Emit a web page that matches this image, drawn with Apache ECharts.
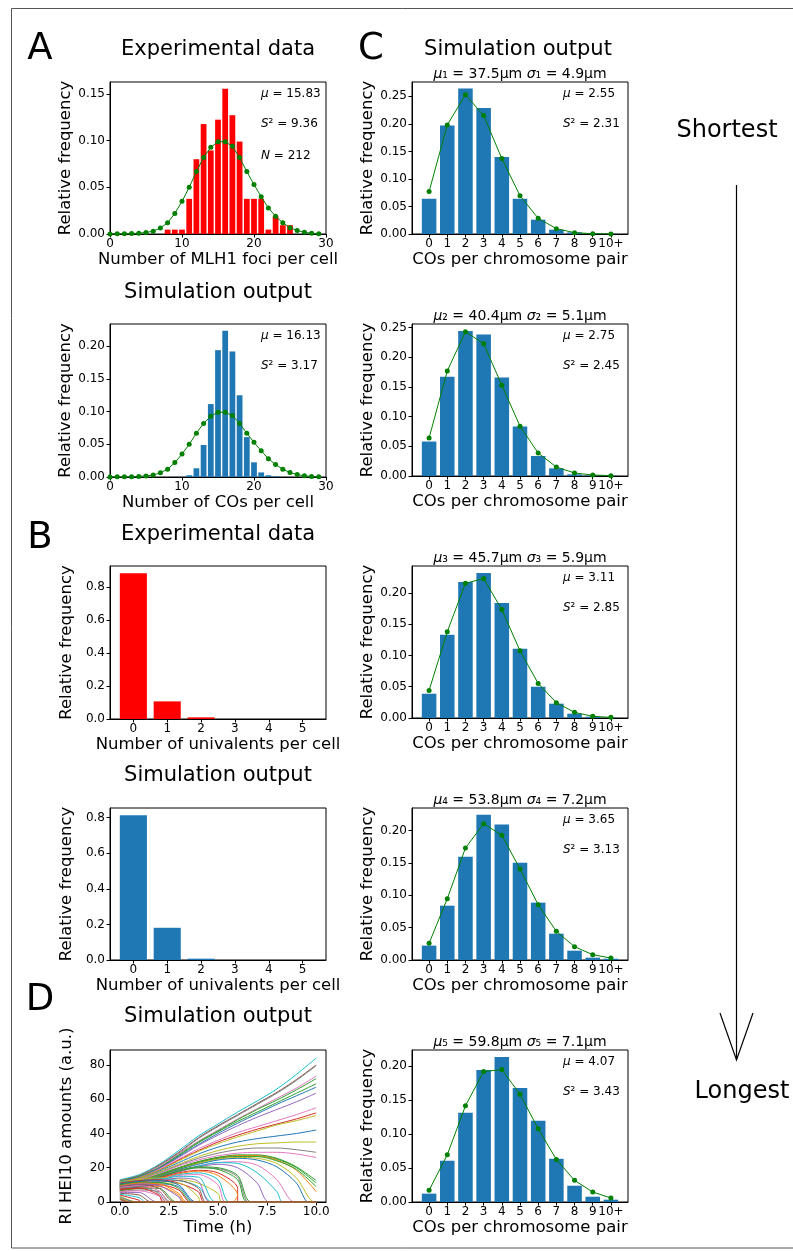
<!DOCTYPE html>
<html><head><meta charset="utf-8">
<script src="https://cdn.jsdelivr.net/npm/echarts@6/dist/echarts.min.js"></script>
<style>html,body{margin:0;padding:0;background:#fff}#c{width:793px;height:1251px}</style>
</head><body><div id="c"></div>
<script>
// ---------------- data ----------------
const fociX = [8,9,10,11,12,13,14,15,16,17,18,19,20,21,22,23,24,25];
const fociFreq = [0.0047,0.0047,0.0047,0.0377,0.0802,0.1179,0.0896,0.1226,0.1557,0.1274,0.0991,0.0377,0.0377,0.0377,0.0047,0.0189,0.0094,0.0094];
const fitX = [0,1,2,3,4,5,6,7,8,9,10,11,12,13,14,15,16,17,18,19,20,21,22,23,24,25,26,27,28,29];
const fitFreq = [0.0001,0.0002,0.0003,0.0005,0.0009,0.0016,0.003,0.0065,0.012,0.022,0.035,0.050,0.067,0.082,0.093,0.099,0.099,0.094,0.082,0.067,0.053,0.040,0.028,0.019,0.012,0.0068,0.0037,0.0018,0.0009,0.0004];
const coCellX = [9,10,11,12,13,14,15,16,17,18,19,20,21,22,23];
const coCellFreq = [0.0003,0.0005,0.0026,0.0133,0.049,0.1115,0.194,0.2235,0.192,0.125,0.061,0.0225,0.007,0.0026,0.001];
const univX = [0,1,2,3,4,5];
const univExp = [0.885,0.107,0.010,0,0,0];
const univSim = [0.813,0.181,0.0075,0,0,0];
const chromCats = ['0','1','2','3','4','5','6','7','8','9','10+'];
const chromBars = [
  [0.064,0.197,0.264,0.229,0.140,0.064,0.026,0.0079,0.003,0.001,0.0005],
  [0.058,0.167,0.244,0.238,0.1655,0.0833,0.0336,0.0129,0.0028,0.001,0.0005],
  [0.0388,0.133,0.2176,0.232,0.184,0.1106,0.050,0.0229,0.0069,0.0021,0.0005],
  [0.0222,0.084,0.1598,0.2247,0.2093,0.1505,0.0887,0.0407,0.0144,0.0036,0.002],
  [0.0123,0.0608,0.1314,0.1946,0.2137,0.1681,0.1196,0.0637,0.024,0.0078,0.0034]
];
const chromFits = [
  [0.077,0.198,0.253,0.215,0.137,0.0696,0.0285,0.0097,0.0024,0.0006,0.0001],
  [0.064,0.1767,0.2427,0.2226,0.1527,0.0839,0.0386,0.0151,0.005,0.0017,0.0005],
  [0.0441,0.138,0.2154,0.2229,0.1734,0.1074,0.0553,0.0245,0.009,0.0027,0.001],
  [0.0258,0.0948,0.1732,0.2108,0.1928,0.1407,0.0856,0.0443,0.0206,0.0082,0.003],
  [0.0172,0.0696,0.1417,0.1922,0.1951,0.1588,0.1078,0.0627,0.0319,0.0147,0.0059]
];
const chromMuLen = ['37.5','40.4','45.7','53.8','59.8'];
const chromSigmaLen = ['4.9','5.1','5.9','7.2','7.1'];
const chromMean = ['2.55','2.75','3.11','3.65','4.07'];
const chromVar = ['2.31','2.45','2.85','3.13','3.43'];
const fociStats = ['15.83','9.36','212'];
const coCellStats = ['16.13','3.17'];
// HEI10 traces: values at t = 0,1,2,... h, then time where it reaches zero (null = never)
const hei10Traces = [
  [[13,16,22,30,38.5,45.5,52.5,59,66,74.5,84], null],
  [[12.5,15.5,21.5,29,37.5,44.5,51,57.5,64,71.5,80], null],
  [[12.5,15.5,21,28.5,37,44,50.5,57,63.5,71,79.5], null],
  [[12,15,20.5,28,35.5,42,48.5,54.5,60.5,66.5,73.5], null],
  [[12,15,20,27.5,35,41.5,48,54,59.5,65.5,72], null],
  [[12,15,20,27,34.5,41,47,52.5,58,63.5,69], null],
  [[12,14.5,19.5,26.5,33.5,40,46,51.5,57,62,67], null],
  [[11.5,14.5,19.5,26,33,39,44.5,49.5,54,58.5,63.5], null],
  [[11.5,14,19,25,31,36,40.5,44,47.5,51,55], null],
  [[11.5,14,18.5,24.5,30,35,39,42.5,45.5,48.5,52], null],
  [[11,14,18.5,24,29.5,34,38,41.5,45,47.5,50.5], null],
  [[11,13.5,18,23,28,32,35,37,38.5,40,42], null],
  [[11,13.5,17.5,22,26.5,30,32.5,34,34.5,35,35], null],
  [[10.5,13,17,21.5,25.5,28.5,30.5,31.5,31.5,30.5,29], null],
  [[10.5,13,16.5,21,24.5,27,28.5,29,29,28,26], null],
  [[10.5,12.5,16,20,23.5,26,27.5,27.5,25.5,20.5,12.5], null],
  [[10.5,12.5,16,20,23.5,26,27,27,25,20,11], null],
  [[10,12.5,15.5,19.5,23,25.5,27,27,24.5,18.5,6], null],
  [[10,12,15.5,19.5,23,25.5,26.5,26.5,24,19,9], null],
  [[10,12,15,19,22.5,25,26,25.5,22.5,14], 9.9],
  [[10,12,15,19,22,24.5,25.5,24.5,20.5,11], 9.6],
  [[9.5,11.5,14.5,18,21,23,23.5,21.5,13], 8.9],
  [[9.5,11.5,14.5,18,21,23,22.5,17,6], 8.3],
  [[9.5,11.5,14,17.5,20.5,22,20,11], 7.6],
  [[9,11.5,15,18.5,20.5,20,15.5], 6.7],
  [[9,11.5,15,18.5,20,19.5,14.5], 6.6],
  [[9,11,14.5,18,20,19,13], 6.5],
  [[8.5,11,14,17,18.5,17,8], 6.0],
  [[8.5,11,13.5,16.5,18,15.5,4], 5.8],
  [[8.5,10.5,13,16,17,13], 5.6],
  [[8,10.5,13,15.5,16,10], 5.4],
  [[12,13,14,13.5,11,5], 5.2],
  [[8,10,12.5,15,14.5], 4.9],
  [[11.5,12.5,13.5,12.5,9], 4.7],
  [[8,10,12,14,12], 4.6],
  [[7.5,9.5,11.5,12.5,8], 4.4],
  [[11,12.5,13,11,6], 4.3],
  [[7.5,9,11,11,3], 4.1],
  [[10.5,12,12.5,10], 3.9],
  [[7,9,10.5,9], 3.8],
  [[10,11.5,11.5,8], 3.7],
  [[7,8.5,10,7], 3.6],
  [[9.5,11,10.5,5], 3.4],
  [[6.5,8,9,4], 3.3],
  [[9,10.5,9.5,3], 3.2],
  [[6.5,8,8], 2.9],
  [[9,10,8], 2.8],
  [[6,7,6], 2.6],
  [[8.5,9.5,6.5], 2.5],
  [[8,9,5], 2.4],
  [[6,6.5,3.5], 2.3],
  [[7.5,8,4], 2.2],
  [[5.5,5.5], 1.9],
  [[5,4], 1.6],
  [[4.5,2.5], 1.3],
  [[4,1], 1.1],
  [[3.5], 0.9],
  [[3], 0.8],
  [[2.5], 0.6],
  [[2], 0.5],
  [[1.5], 0.4]
];
const hei10Colors = ['#17becf','#8c564b','#7f7f7f','#e377c2','#2ca02c','#2ca02c','#1f77b4','#9467bd','#e377c2','#d62728',
  '#bcbd22','#1f77b4','#bcbd22','#7f7f7f','#e377c2','#2ca02c','#2ca02c','#ff7f0e','#2ca02c','#bcbd22',
  '#1f77b4','#e377c2','#17becf','#9467bd','#2ca02c','#7f7f7f','#2ca02c','#d62728','#ff7f0e','#17becf',
  '#e377c2','#bcbd22','#17becf','#17becf','#9467bd','#8c564b','#d62728','#bcbd22','#1f77b4','#1f77b4',
  '#2ca02c','#d62728','#ff7f0e','#ff7f0e','#9467bd','#2ca02c','#8c564b','#7f7f7f','#e377c2','#7f7f7f',
  '#e377c2','#d62728','#9467bd','#8c564b','#17becf','#d62728','#bcbd22','#1f77b4','#ff7f0e','#2ca02c','#d62728'];

// ---------------- build ----------------
const FONT = 'DejaVu Sans';
const grids = [], xAxes = [], yAxes = [], series = [], graphics = [];
const W = 216;

function addPanel(c) {
  const gi = grids.length;
  grids.push({left: c.left, top: c.top, width: W, height: c.height, show: true, borderColor: '#000', borderWidth: 1, backgroundColor: 'transparent'});
  const lblStyle = {color: '#000', fontSize: 12, fontFamily: FONT};
  xAxes.push({
    gridIndex: gi, type: 'value', min: c.xMin, max: c.xMax,
    axisLine: {show: true, onZero: false, lineStyle: {color: '#000', width: 1}},
    axisTick: {show: true, inside: false, length: 3.5, customValues: c.xTicks, lineStyle: {color: '#000'}},
    axisLabel: Object.assign({customValues: c.xTicks, formatter: c.xFmt, margin: 4}, lblStyle),
    splitLine: {show: false},
    name: c.xName, nameLocation: 'middle', nameGap: 16,
    nameTextStyle: {color: '#000', fontSize: 16.5, fontFamily: FONT, verticalAlign: 'top'}
  });
  yAxes.push({
    gridIndex: gi, type: 'value', min: 0, max: c.yMax,
    axisLine: {show: true, onZero: false, lineStyle: {color: '#000', width: 1}},
    axisTick: {show: true, inside: false, length: 3.5, customValues: c.yTicks, lineStyle: {color: '#000'}},
    axisLabel: Object.assign({customValues: c.yTicks, formatter: c.yFmt, margin: 5}, lblStyle),
    splitLine: {show: false},
    name: c.yName, nameLocation: 'middle', nameGap: 35,
    nameTextStyle: {color: '#000', fontSize: 16.5, fontFamily: FONT}
  });
  return gi;
}
const f2 = v => v.toFixed(2), f1 = v => v.toFixed(1), f0 = v => String(Math.round(v));
const fInt = v => String(v);
const fChrom = v => chromCats[v];

function barSeries(gi, xs, ys, color, width) {
  series.push({type: 'bar', xAxisIndex: gi, yAxisIndex: gi, data: xs.map((x, i) => [x, ys[i]]),
    barWidth: width, itemStyle: {color: color}, z: 2});
}
function fitSeries(gi, xs, ys) {
  series.push({type: 'line', xAxisIndex: gi, yAxisIndex: gi, data: xs.map((x, i) => [x, ys[i]]),
    symbol: 'circle', symbolSize: 5, showSymbol: true, lineStyle: {color: '#008000', width: 1},
    itemStyle: {color: '#008000'}, z: 3});
}
function txt(x, y, text, size, align, extra) {
  graphics.push({type: 'text', x: x, y: y, z: 10, style: Object.assign({text: text, fontSize: size, fontFamily: FONT, fill: '#000',
    align: align || 'center', verticalAlign: 'middle'}, extra || {})});
}
const italicRich = {i: {fontStyle: 'italic', fontFamily: FONT, fontSize: 12, fill: '#000'}};
function stat(x, y, text) { txt(x, y, text, 12, 'left', {rich: italicRich}); }

// Panel A
const aW = W / 30 * 0.8;
let g = addPanel({left: 110, top: 82, height: 152, xMin: 0, xMax: 30, xTicks: [0,10,20,30], xFmt: fInt,
  yMax: 0.163, yTicks: [0,0.05,0.10,0.15], yFmt: f2, xName: 'Number of MLH1 foci per cell', yName: 'Relative frequency'});
barSeries(g, fociX, fociFreq, '#ff0000', aW);
fitSeries(g, fitX, fitFreq);
g = addPanel({left: 110, top: 324, height: 153, xMin: 0, xMax: 30, xTicks: [0,10,20,30], xFmt: fInt,
  yMax: 0.234, yTicks: [0,0.05,0.10,0.15,0.20], yFmt: f2, xName: 'Number of COs per cell', yName: 'Relative frequency'});
barSeries(g, coCellX, coCellFreq, '#1f77b4', aW);
fitSeries(g, fitX, fitFreq);

// Panel B
const bW = W / 6.38 * 0.8;
g = addPanel({left: 110, top: 566, height: 153, xMin: -0.69, xMax: 5.69, xTicks: univX, xFmt: fInt,
  yMax: 0.929, yTicks: [0,0.2,0.4,0.6,0.8], yFmt: f1, xName: 'Number of univalents per cell', yName: 'Relative frequency'});
barSeries(g, univX, univExp, '#ff0000', bW);
g = addPanel({left: 110, top: 808, height: 152, xMin: -0.69, xMax: 5.69, xTicks: univX, xFmt: fInt,
  yMax: 0.854, yTicks: [0,0.2,0.4,0.6,0.8], yFmt: f1, xName: 'Number of univalents per cell', yName: 'Relative frequency'});
barSeries(g, univX, univSim, '#1f77b4', bW);

// Panel D
g = addPanel({left: 110, top: 1050, height: 152, xMin: -0.5, xMax: 10.5, xTicks: [0,2.5,5,7.5,10], xFmt: f1,
  yMax: 88.7, yTicks: [0,20,40,60,80], yFmt: f0, xName: 'Time (h)', yName: 'RI HEI10 amounts (a.u.)'});
hei10Traces.forEach((tr, k) => {
  const data = tr[0].map((v, i) => [i, v]);
  if (tr[1] !== null) { data.push([tr[1], 0]); data.push([10, 0]); }
  series.push({type: 'line', xAxisIndex: g, yAxisIndex: g, data: data, showSymbol: false, symbol: 'none',
    smooth: 0.3, clip: true, lineStyle: {width: 1, color: hei10Colors[k % hei10Colors.length]}, z: 2});
});

// Panel C
const cTops = [82, 324, 566, 808, 1050];
const cMax = [0.276, 0.2557, 0.243, 0.235, 0.224];
const cW = W / 11.88 * 0.8;
const chromIdx = chromCats.map((c, i) => i);
cTops.forEach((t, k) => {
  const yt = cMax[k] > 0.25 ? [0,0.05,0.10,0.15,0.20,0.25] : [0,0.05,0.10,0.15,0.20];
  const gg = addPanel({left: 412, top: t, height: 152, xMin: -0.94, xMax: 10.94, xTicks: chromIdx, xFmt: fChrom,
    yMax: cMax[k], yTicks: yt, yFmt: f2, xName: 'COs per chromosome pair', yName: 'Relative frequency'});
  barSeries(gg, chromIdx, chromBars[k], '#1f77b4', cW);
  fitSeries(gg, chromIdx, chromFits[k]);
  const sub = '₁₂₃₄₅'[k];
  txt(520, t - 8, '{i|μ}' + sub + ' = ' + chromMuLen[k] + 'μm {i|σ}' + sub + ' = ' + chromSigmaLen[k] + 'μm', 14,
    'center', {rich: {i: {fontStyle: 'italic', fontFamily: FONT, fontSize: 14, fill: '#000'}}});
  stat(563, t + 11.5, '{i|μ} = ' + chromMean[k]);
  stat(563, t + 41.5, '{i|S}² = ' + chromVar[k]);
});

// Titles and labels
txt(40, 49, 'A', 37); txt(40, 538, 'B', 37); txt(371, 49, 'C', 37); txt(40, 1000, 'D', 37);
txt(218, 50, 'Experimental data', 21);
txt(218, 293, 'Simulation output', 21);
txt(218, 535, 'Experimental data', 21);
txt(218, 776, 'Simulation output', 21);
txt(218, 1017, 'Simulation output', 21);
txt(518, 50, 'Simulation output', 21);
stat(261, 93.5, '{i|μ} = ' + fociStats[0]);
stat(261, 124, '{i|S}² = ' + fociStats[1]);
stat(261, 156, '{i|N} = ' + fociStats[2]);
stat(261, 336, '{i|μ} = ' + coCellStats[0]);
stat(261, 366, '{i|S}² = ' + coCellStats[1]);
txt(727, 131, 'Shortest', 24);
txt(742, 1092, 'Longest', 24);
graphics.push({type: 'line', z: 10, shape: {x1: 736.5, y1: 185, x2: 736.5, y2: 1060}, style: {stroke: '#000', lineWidth: 1.2}});
graphics.push({type: 'polyline', z: 10, shape: {points: [[720, 1013], [736.5, 1060], [753, 1013]]}, style: {stroke: '#000', lineWidth: 1.2, fill: null}});
graphics.push({type: 'rect', z: 0, shape: {x: 11.5, y: 8.5, width: 800, height: 1239.5}, style: {stroke: '#555', lineWidth: 1, fill: null}});

const chart = echarts.init(document.getElementById('c'), null, {renderer: 'canvas'});
chart.setOption({
  animation: false,
  backgroundColor: '#fff',
  textStyle: {fontFamily: FONT},
  grid: grids, xAxis: xAxes, yAxis: yAxes, series: series, graphic: graphics
});
</script>
</body></html>
